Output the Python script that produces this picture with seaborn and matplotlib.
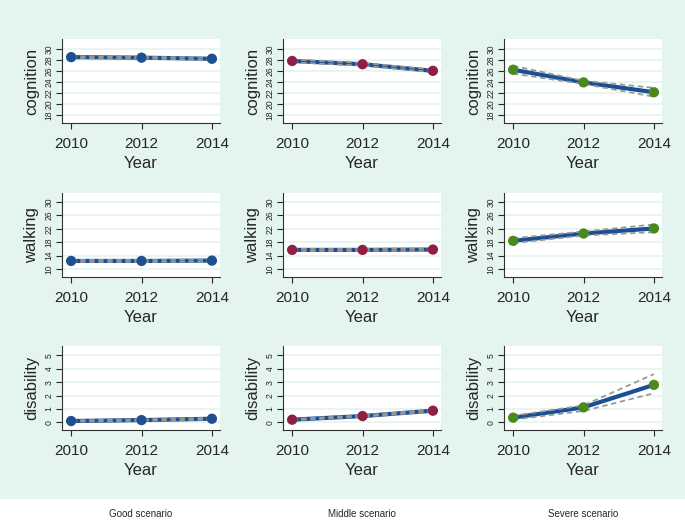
import numpy as np
import pandas as pd
import matplotlib
matplotlib.use("Agg")
import matplotlib.pyplot as plt
import seaborn as sns
from matplotlib.patches import Rectangle

sns.set_style("ticks")
plt.rcParams['font.family'] = ['Liberation Sans', 'DejaVu Sans']

# data
years = [2010, 2012, 2014]
scenarios = ['Good scenario', 'Middle scenario', 'Severe scenario']
outcomes = ['cognition', 'walking', 'disability']

cognition_mean = {'Good scenario': [28.5, 28.4, 28.2],
                  'Middle scenario': [27.8, 27.2, 26.0],
                  'Severe scenario': [26.2, 23.9, 22.1]}
cognition_lo = {'Good scenario': [28.35, 28.25, 28.0],
                'Middle scenario': [27.55, 26.95, 25.75],
                'Severe scenario': [25.5, 23.6, 21.3]}
cognition_hi = {'Good scenario': [28.65, 28.55, 28.4],
                'Middle scenario': [28.05, 27.45, 26.25],
                'Severe scenario': [26.9, 24.2, 22.9]}

walking_mean = {'Good scenario': [12.4, 12.4, 12.5],
                'Middle scenario': [15.7, 15.7, 15.8],
                'Severe scenario': [18.4, 20.6, 22.1]}
walking_lo = {'Good scenario': [12.1, 12.1, 12.2],
              'Middle scenario': [15.4, 15.4, 15.5],
              'Severe scenario': [17.7, 20.0, 21.0]}
walking_hi = {'Good scenario': [12.7, 12.7, 12.8],
              'Middle scenario': [16.0, 16.0, 16.1],
              'Severe scenario': [19.2, 21.2, 23.3]}

disability_mean = {'Good scenario': [0.1, 0.17, 0.27],
                   'Middle scenario': [0.2, 0.47, 0.87],
                   'Severe scenario': [0.35, 1.12, 2.8]}
disability_lo = {'Good scenario': [0.05, 0.12, 0.2],
                 'Middle scenario': [0.15, 0.42, 0.8],
                 'Severe scenario': [0.2, 0.85, 2.17]}
disability_hi = {'Good scenario': [0.15, 0.22, 0.34],
                 'Middle scenario': [0.25, 0.52, 0.95],
                 'Severe scenario': [0.5, 1.27, 3.6]}

means = {'cognition': cognition_mean, 'walking': walking_mean, 'disability': disability_mean}
los = {'cognition': cognition_lo, 'walking': walking_lo, 'disability': disability_lo}
his = {'cognition': cognition_hi, 'walking': walking_hi, 'disability': disability_hi}

yticks = {'cognition': [18, 20, 22, 24, 26, 28, 30],
          'walking': [10, 14, 18, 22, 26, 30],
          'disability': [0, 1, 2, 3, 4, 5]}
ylims = {'cognition': (16.5, 31.8), 'walking': (7.6, 32.7), 'disability': (-0.57, 5.7)}

marker_col = {'Good scenario': '#1f4f8f', 'Middle scenario': '#8e1f45', 'Severe scenario': '#4a8a1c'}
line_col = '#1a4f94'
bg = '#e4f4ee'

fig = plt.figure(figsize=(6.85, 5.21), dpi=100)
fig.patch.set_facecolor('white')
fig.patches.append(Rectangle((0, 22 / 521), 1, 1, transform=fig.transFigure,
                             facecolor=bg, edgecolor='none', zorder=-10))

lefts = [62, 283, 504]
tops = [39, 193, 346]
W, H = 158, 84

for r, out in enumerate(outcomes):
    for c, sc in enumerate(scenarios):
        ax = fig.add_axes([lefts[c] / 685, (521 - tops[r] - H) / 521, W / 685, H / 521])
        ax.set_facecolor('white')
        df = pd.DataFrame({'Year': years, 'mean': means[out][sc],
                           'lo': los[out][sc], 'hi': his[out][sc]})
        for t in yticks[out]:
            ax.axhline(t, color=bg, lw=1.2, zorder=0)
        sns.lineplot(data=df, x='Year', y='mean', color=line_col, lw=3.0, ax=ax, zorder=2)
        sns.lineplot(data=df, x='Year', y='lo', color='#999999', lw=1.3, ax=ax,
                     linestyle=(0, (3, 2)), zorder=3)
        sns.lineplot(data=df, x='Year', y='hi', color='#999999', lw=1.3, ax=ax,
                     linestyle=(0, (3, 2)), zorder=3)
        sns.scatterplot(data=df, x='Year', y='mean', color=marker_col[sc], s=55,
                        edgecolor='none', ax=ax, zorder=4)
        ax.set_xlim(2009.74, 2014.23)
        ax.set_ylim(*ylims[out])
        ax.set_xticks(years)
        ax.set_yticks(yticks[out])
        ax.tick_params(axis='x', labelsize=11, length=4, width=0.8, pad=6)
        ax.tick_params(axis='y', labelsize=6.2, length=4, width=0.8, pad=2, labelrotation=90)
        for lab in ax.get_yticklabels():
            lab.set_va('center')
        ax.set_xlabel('Year', fontsize=12, labelpad=4)
        ax.set_ylabel(out, fontsize=12, labelpad=4)
        for s in ['top', 'right']:
            ax.spines[s].set_visible(False)
        for s in ['left', 'bottom']:
            ax.spines[s].set_color('#333333')
            ax.spines[s].set_linewidth(0.8)

label_x = [141, 362, 583]
for x, sc in zip(label_x, scenarios):
    fig.text(x / 685, 1 - 514 / 521, sc, ha='center', va='center', fontsize=7)

fig.savefig('out.png', dpi=100, facecolor=fig.get_facecolor())
